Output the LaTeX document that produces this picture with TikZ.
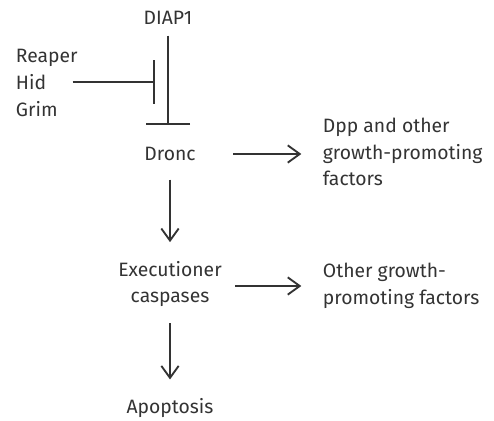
\documentclass[tikz,border=0pt]{standalone}
\usepackage{fontspec}
\setmainfont{Fira Sans}
\usetikzlibrary{arrows.meta}
\definecolor{ink}{HTML}{333333}

\begin{document}
\begin{tikzpicture}[
  x=0.75pt, y=-0.75pt,
  font=\fontsize{14.5}{20}\selectfont\fontseries{l}\selectfont,
  lbl/.style={text=ink, inner sep=2pt},
  act/.style={-{Straight Barb[length=9pt, width=13pt, line width=1.4pt]}, draw=ink, line width=1.4pt},
  inhib/.style={-{Bar[width=33pt, line width=1.6pt]}, draw=ink, line width=1.4pt}
]
  \useasboundingbox (0,0) rectangle (494,421);

  \node[lbl] (diap) at (168,18) {DIAP1};
  \node[lbl, align=left, anchor=west] (rhg) at (13,83) {Reaper\\Hid\\Grim};
  \node[lbl] (dronc) at (170,154) {Dronc};
  \node[lbl, align=left, anchor=west] (dpp) at (320,152) {Dpp and other\\growth-promoting\\factors};
  \node[lbl, align=center] (exec) at (170,284) {Executioner\\caspases};
  \node[lbl, align=left, anchor=west] (other) at (320,286) {Other growth-\\promoting factors};
  \node[lbl] (apop) at (170,408) {Apoptosis};

  \coordinate (blk) at (168,125);
  \coordinate (hit) at (155,82);

  \draw[inhib, shorten <=6pt] (diap.south) -- (blk);
  \draw[inhib, shorten <=-6pt] (rhg.east |- hit) -- (hit);

  \draw[act, shorten <=26pt, shorten >=14pt] (dronc.east) -- (dronc.east -| dpp.west);
  \draw[act, shorten <=12pt, shorten >=12pt] (dronc.south) -- (exec.north);
  \draw[act, shorten <=8pt, shorten >=14pt] (exec.east |- other.west) -- (other.west);
  \draw[act, shorten <=10pt, shorten >=12pt] (exec.south) -- (apop.north);
\end{tikzpicture}
\end{document}
